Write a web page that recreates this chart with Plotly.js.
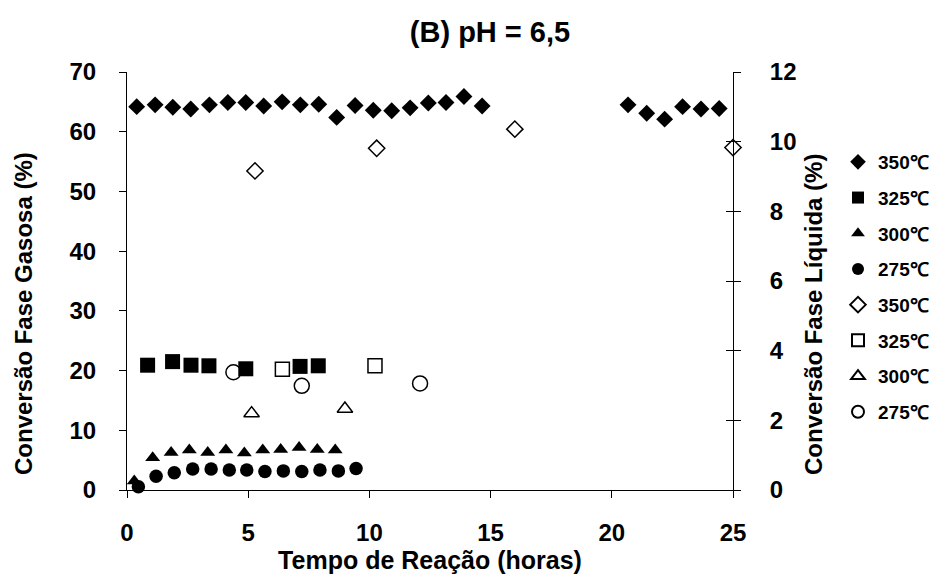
<!DOCTYPE html>
<html><head><meta charset="utf-8">
<script src="https://cdn.plot.ly/plotly-3.0.1.min.js"></script>
<style>html,body{margin:0;padding:0;background:#fff}#chart{width:936px;height:579px}</style>
</head><body><div id="chart"></div>
<script>
// Gas phase conversion (left axis, %)
const gas350_t = [0.40,1.16,1.89,2.63,3.40,4.16,4.90,5.64,6.40,7.15,7.91,8.65,9.41,10.16,10.92,11.68,12.43,13.16,13.90,14.65,20.67,21.44,22.18,22.92,23.68,24.43];
const gas350_v = [64.2,64.5,64.1,63.8,64.5,64.9,64.9,64.3,65.0,64.5,64.6,62.4,64.4,63.6,63.5,64.0,64.8,64.9,65.9,64.3,64.5,63.1,62.1,64.2,63.8,63.9];
const gas325_t = [0.85,1.88,2.64,3.38,4.90,7.14,7.89];
const gas325_v = [20.9,21.5,20.9,20.8,20.3,20.7,20.8];
const gas300_t = [0.30,1.06,1.82,2.57,3.33,4.08,4.84,5.60,6.34,7.10,7.85,8.59];
const gas300_v = [1.5,5.4,6.3,6.7,6.3,6.7,6.2,6.7,6.8,7.1,6.8,6.7];
const gas275_t = [0.47,1.20,1.95,2.71,3.47,4.22,4.94,5.69,6.45,7.21,7.96,8.72,9.45];
const gas275_v = [0.55,2.3,2.9,3.5,3.5,3.35,3.35,3.1,3.2,3.1,3.35,3.2,3.6];
// Liquid phase conversion (right axis, %)
const liq350_t = [5.28,10.30,16.0,25.0];
const liq350_v = [9.16,9.81,10.36,9.83];
const liq325_t = [6.41,10.23];
const liq325_v = [3.47,3.57];
const liq300_t = [5.14,8.99];
const liq300_v = [2.2,2.33];
const liq275_t = [4.39,7.21,12.09];
const liq275_v = [3.38,2.99,3.06];
const seriesNames = ['350℃','325℃','300℃','275℃','350℃','325℃','300℃','275℃'];

const FONT = 'Liberation Sans, Arial, sans-serif';
function tr(x, y, name, symbol, size, axis, grp) {
  return {
    x: x, y: y, name: name, type: 'scatter', mode: 'markers', yaxis: axis,
    legendgroup: grp, cliponaxis: false,
    marker: {symbol: symbol, size: size, color: '#000', line: {color: '#000', width: symbol.indexOf('open') >= 0 ? 1.5 : 0}},
    hoverinfo: 'x+y+name'
  };
}
const data = [
  tr(gas350_t, gas350_v, seriesNames[0], 'diamond', 13, 'y', 'g1'),
  tr(gas325_t, gas325_v, seriesNames[1], 'square', 15, 'y', 'g2'),
  tr(gas300_t, gas300_v, seriesNames[2], 'triangle-up', 13, 'y', 'g3'),
  tr(gas275_t, gas275_v, seriesNames[3], 'circle', 13.5, 'y', 'g4'),
  tr(liq350_t, liq350_v, seriesNames[4], 'diamond-open', 12.5, 'y2', 'g5'),
  tr(liq325_t, liq325_v, seriesNames[5], 'square-open', 14, 'y2', 'g6'),
  tr(liq300_t, liq300_v, seriesNames[6], 'triangle-up-open', 13.5, 'y2', 'g7'),
  tr(liq275_t, liq275_v, seriesNames[7], 'circle-open', 15, 'y2', 'g8'),
  {x: [], y: [], yaxis: 'y3', type: 'scatter', mode: 'markers', showlegend: false, hoverinfo: 'skip'}
];
const tickFont = {family: FONT, size: 24, color: '#000', weight: 'bold'};
const titleFont = {family: FONT, size: 24, color: '#000', weight: 'bold'};
const layout = {
  width: 936, height: 579,
  margin: {l: 127, r: 203, t: 72, b: 89},
  paper_bgcolor: '#fff', plot_bgcolor: '#fff',
  font: {family: FONT, color: '#000'},
  title: {text: '(B) pH = 6,5', font: {family: FONT, size: 29, color: '#000', weight: 'bold'},
          xref: 'container', yref: 'container', x: 490/936, y: 1 - 32/579, xanchor: 'center', yanchor: 'middle'},
  xaxis: {range: [0, 25], dtick: 5, tick0: 0, ticks: 'outside', ticklen: 7, tickcolor: '#000',
          showline: true, linecolor: '#000', linewidth: 1, showgrid: false, zeroline: false,
          tickfont: tickFont, ticklabelstandoff: 14,
          title: {text: 'Tempo de Reação (horas)', font: {family: FONT, size: 25, color: '#000', weight: 'bold'}, standoff: 4}},
  yaxis: {range: [0, 70], dtick: 10, tick0: 0, ticks: 'outside', ticklen: 7, tickcolor: '#000',
          showline: true, linecolor: '#000', linewidth: 1, showgrid: false, zeroline: false,
          tickfont: tickFont, ticklabelstandoff: 18},
  yaxis2: {range: [0, 12], dtick: 2, tick0: 0, overlaying: 'y', side: 'right', anchor: 'x',
           ticks: 'outside', ticklen: 7, tickcolor: '#000',
           showline: true, linecolor: '#000', linewidth: 1, showgrid: false, zeroline: false,
           tickfont: tickFont, ticklabelstandoff: 24},
  yaxis3: {range: [0, 12], dtick: 2, tick0: 0, overlaying: 'y', side: 'right', anchor: 'x',
           ticks: 'inside', ticklen: 7, tickcolor: '#000', showticklabels: false,
           showline: false, showgrid: false, zeroline: false},
  showlegend: true,
  legend: {xref: 'container', yref: 'container', x: 838/936, y: 1 - 143/579, xanchor: 'left', yanchor: 'top',
           font: {family: FONT, size: 19, color: '#000', weight: 'bold'},
           traceorder: 'grouped', tracegroupgap: 8, itemsizing: 'constant', bgcolor: 'rgba(0,0,0,0)'},
  annotations: [
    {text: 'Conversão Fase Gasosa (%)', xref: 'paper', yref: 'paper', x: (23-127)/606, y: (490-314)/418,
     xanchor: 'center', yanchor: 'middle', textangle: -90, showarrow: false, font: titleFont},
    {text: 'Conversão Fase Líquida (%)', xref: 'paper', yref: 'paper', x: (813-127)/606, y: (490-315)/418,
     xanchor: 'center', yanchor: 'middle', textangle: -90, showarrow: false, font: titleFont}
  ]
};
Plotly.newPlot('chart', data, layout, {displayModeBar: false, responsive: false});
</script>
</body></html>
